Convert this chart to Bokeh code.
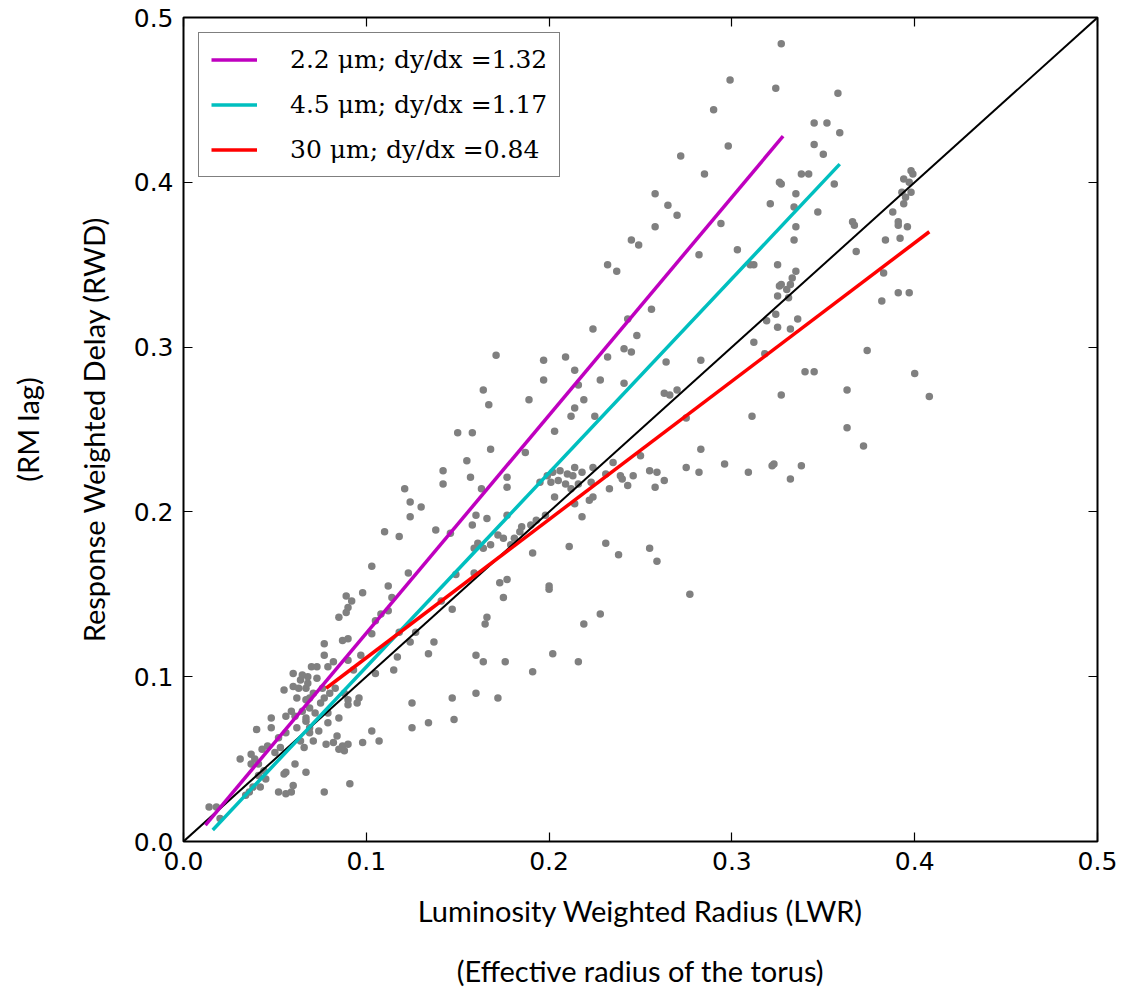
from bokeh.plotting import figure
from bokeh.models import (FixedTicker, NumeralTickFormatter, LinearAxis, Range1d,
                          Legend, LegendItem, CustomJSTickFormatter)
from bokeh.embed import file_html
from bokeh.resources import INLINE

# ---- data ----
lwr = [0.060,0.065,0.064,0.068,0.070,0.055,0.060,0.063,0.067,0.069,0.062,0.059,0.056,0.061,0.065,0.067,0.048,0.048,0.040,0.052,0.056,0.062,0.069,0.043,0.046,0.031,0.037,0.039,0.037,0.041,0.044,0.041,0.045,0.042,0.038,0.036,0.034,0.056,0.055,0.061,0.067,0.060,0.052,0.056,0.059,0.014,0.018,0.020,0.050,0.053,0.064,0.066,
       0.103,0.123,0.112,0.098,0.089,0.092,0.114,0.090,0.089,0.085,0.108,0.105,0.112,0.103,0.087,0.090,0.077,0.077,0.118,0.124,0.127,0.134,0.097,0.117,0.073,0.079,0.082,0.090,0.093,0.105,0.115,0.068,0.073,0.076,0.071,0.077,0.080,0.083,0.088,0.090,0.096,0.095,0.090,0.067,0.069,0.075,0.079,0.072,0.085,0.069,0.074,0.079,0.067,0.071,0.078,0.084,0.082,0.085,0.087,0.090,0.088,0.103,0.107,0.098,0.125,0.125,0.134,0.091,0.077,
       0.149,0.159,0.141,0.147,0.173,0.177,0.175,0.200,0.200,0.166,0.165,0.219,0.228,0.137,0.160,0.164,0.176,0.191,0.202,0.216,0.147,0.160,0.172,0.148,
       0.121,0.124,0.130,0.124,0.110,0.118,
       0.256,0.243,0.224,0.248,0.241,0.245,0.232,0.171,0.197,0.209,0.214,0.197,0.228,0.241,0.216,0.164,0.189,0.219,0.167,0.214,0.212,0.225,0.150,0.158,0.203,0.168,0.187,0.155,0.142,0.157,0.142,0.177,0.177,0.163,0.138,0.146,0.160,0.158,0.166,0.177,
       0.199,0.202,0.206,0.210,0.213,0.218,0.224,0.214,0.201,0.195,0.205,0.209,0.212,0.216,0.223,0.224,0.222,0.203,0.214,0.235,0.231,0.239,0.246,0.240,0.243,0.233,0.250,0.255,0.259,0.258,0.218,0.198,0.193,0.190,0.185,0.184,0.181,0.175,0.172,0.161,0.159,0.164,0.168,0.179,0.231,0.211,0.191,0.238,0.255,0.259,
       0.258,0.258,0.245,0.249,0.232,0.237,
       0.327,0.299,0.324,0.358,0.290,0.345,0.352,0.359,0.298,0.345,0.350,0.272,0.285,0.338,0.342,0.326,0.327,0.356,0.335,0.265,0.321,0.334,0.347,0.270,0.294,0.335,0.366,0.367,0.334,0.384,0.282,0.303,0.368,0.310,0.312,0.325,0.335,0.333,0.326,0.327,0.330,0.332,0.325,0.331,0.383,0.382,
       0.324,0.319,0.325,0.336,0.332,0.312,0.318,0.264,0.283,0.374,0.340,0.345,0.263,0.266,0.270,0.327,0.363,0.311,0.275,0.363,0.372,0.283,0.263,0.275,0.282,0.296,0.309,0.322,0.323,0.338,0.332,0.277,
       0.398,0.399,0.394,0.397,0.393,0.398,0.395,0.394,0.388,0.391,0.391,0.396,0.392,0.391,0.397,0.400,0.408]
rwd = [0.102,0.101,0.098,0.100,0.106,0.092,0.094,0.093,0.093,0.087,0.087,0.079,0.076,0.076,0.079,0.075,0.075,0.069,0.068,0.063,0.066,0.069,0.066,0.056,0.058,0.050,0.053,0.050,0.047,0.047,0.043,0.040,0.038,0.033,0.033,0.030,0.028,0.042,0.041,0.047,0.042,0.034,0.030,0.029,0.030,0.021,0.021,0.014,0.054,0.057,0.061,0.057,
       0.167,0.163,0.155,0.151,0.149,0.146,0.148,0.142,0.139,0.136,0.138,0.134,0.140,0.126,0.122,0.123,0.120,0.113,0.127,0.121,0.127,0.114,0.113,0.112,0.106,0.106,0.109,0.110,0.104,0.102,0.104,0.096,0.099,0.093,0.090,0.087,0.090,0.093,0.090,0.086,0.087,0.084,0.083,0.086,0.081,0.084,0.078,0.078,0.075,0.069,0.067,0.072,0.073,0.061,0.059,0.064,0.060,0.056,0.058,0.059,0.055,0.067,0.061,0.060,0.084,0.069,0.072,0.035,0.030,
       0.162,0.163,0.146,0.141,0.157,0.159,0.148,0.155,0.153,0.136,0.132,0.132,0.138,0.121,0.113,0.109,0.109,0.103,0.114,0.109,0.087,0.090,0.087,0.074,
       0.214,0.206,0.203,0.197,0.188,0.185,
       0.323,0.317,0.311,0.307,0.299,0.297,0.294,0.295,0.292,0.294,0.286,0.280,0.280,0.278,0.277,0.274,0.268,0.268,0.265,0.263,0.258,0.258,0.248,0.248,0.249,0.238,0.236,0.231,0.225,0.221,0.217,0.221,0.215,0.214,0.189,0.187,0.198,0.192,0.196,0.198,
       0.222,0.224,0.225,0.223,0.222,0.224,0.227,0.227,0.218,0.218,0.219,0.217,0.214,0.217,0.218,0.209,0.207,0.209,0.205,0.230,0.223,0.222,0.222,0.220,0.216,0.214,0.234,0.225,0.224,0.215,0.197,0.198,0.195,0.192,0.191,0.188,0.184,0.184,0.186,0.181,0.178,0.178,0.180,0.180,0.181,0.179,0.175,0.174,0.178,0.170,
       0.393,0.373,0.365,0.362,0.350,0.346,
       0.484,0.462,0.457,0.454,0.444,0.436,0.436,0.430,0.422,0.423,0.417,0.416,0.405,0.405,0.405,0.400,0.399,0.399,0.393,0.386,0.387,0.385,0.382,0.380,0.375,0.373,0.376,0.374,0.365,0.365,0.356,0.359,0.358,0.350,0.350,0.350,0.346,0.342,0.337,0.338,0.335,0.338,0.331,0.330,0.345,0.328,
       0.320,0.316,0.312,0.317,0.311,0.303,0.296,0.291,0.292,0.298,0.285,0.285,0.272,0.271,0.274,0.271,0.274,0.258,0.257,0.251,0.240,0.238,0.219,0.227,0.224,0.229,0.224,0.228,0.229,0.228,0.220,0.150,
       0.407,0.405,0.402,0.400,0.394,0.394,0.391,0.387,0.382,0.376,0.374,0.373,0.366,0.333,0.333,0.284,0.270]

one_to_one_x = [0.0, 0.5]
one_to_one_y = [0.0, 0.5]
fit_labels = ["2.2 \u03bcm; dy/dx =1.32", "4.5 \u03bcm; dy/dx =1.17", "30 \u03bcm; dy/dx =0.84"]
fit_x = [[0.012, 0.328], [0.016, 0.359], [0.078, 0.408]]
fit_y = [[0.010, 0.428], [0.007, 0.411], [0.093, 0.370]]
fit_colors = ["#bf00bf", "#00bfbf", "#ff0000"]
ticks = [0.0, 0.1, 0.2, 0.3, 0.4, 0.5]

p = figure(frame_width=914, frame_height=824, output_backend="svg", toolbar_location=None,
           x_range=Range1d(0, 0.5), y_range=Range1d(0, 0.5),
           min_border_left=183, min_border_right=25, min_border_top=17, min_border_bottom=150,
           background_fill_color="white", border_fill_color="white")
p.grid.visible = False
p.outline_line_color = "black"
p.outline_line_width = 2
p.outline_line_alpha = 1

p.scatter(lwr, rwd, size=7.5, color="#808080", line_color=None)
p.line(one_to_one_x, one_to_one_y, color="black", line_width=2)
items = []
for lab, xs, ys, c in zip(fit_labels, fit_x, fit_y, fit_colors):
    r = p.line(xs, ys, color=c, line_width=3.5)
    items.append(LegendItem(label=lab, renderers=[r]))

def style_axis(ax, show_labels=True):
    ax.ticker = FixedTicker(ticks=ticks)
    ax.axis_line_color = None
    ax.major_tick_in = 9
    ax.major_tick_out = 0
    ax.major_tick_line_color = "black"
    ax.major_tick_line_width = 1.2
    ax.minor_tick_line_color = None
    if show_labels:
        ax.formatter = NumeralTickFormatter(format="0.0")
        ax.major_label_text_font = "DejaVu Sans"
        ax.major_label_text_font_size = "25px"
        ax.major_label_text_color = "black"
    else:
        ax.formatter = CustomJSTickFormatter(code="return ''")

style_axis(p.xaxis[0])
style_axis(p.yaxis[0])
p.xaxis[0].major_label_standoff = 10
p.yaxis[0].major_label_standoff = 10

LABEL_FONT = "Lato"
LABEL_SIZE = "29px"
for ax in (p.xaxis[0], p.yaxis[0]):
    ax.axis_label_text_font = LABEL_FONT
    ax.axis_label_text_font_size = LABEL_SIZE
    ax.axis_label_text_font_style = "normal"
    ax.axis_label_text_color = "black"
p.xaxis[0].axis_label = "Luminosity Weighted Radius (LWR)"
p.yaxis[0].axis_label = "Response Weighted Delay (RWD)"
p.xaxis[0].axis_label_standoff = 20
p.yaxis[0].axis_label_standoff = 20

right_ax = LinearAxis()
style_axis(right_ax, show_labels=False)
right_ax.major_label_standoff = 0
p.add_layout(right_ax, "right")
top_ax = LinearAxis()
style_axis(top_ax, show_labels=False)
top_ax.major_label_standoff = 0
p.add_layout(top_ax, "above")

def label_axis(text, standoff):
    ax = LinearAxis(ticker=FixedTicker(ticks=[]), axis_line_color=None,
                    major_tick_out=0, major_tick_in=0, minor_tick_out=0, minor_tick_in=0,
                    axis_label=text, axis_label_standoff=standoff,
                    axis_label_text_font=LABEL_FONT, axis_label_text_font_size=LABEL_SIZE,
                    axis_label_text_font_style="normal", axis_label_text_color="black")
    return ax

p.add_layout(label_axis("(Effective radius of the torus)", 22), "below")
p.add_layout(label_axis("(RM lag)", 28), "left")

legend = Legend(items=items, location="top_left")
legend.label_text_font = "DejaVu Serif"
legend.label_text_font_size = "25px"
legend.label_text_color = "black"
legend.glyph_width = 46
legend.glyph_height = 29
legend.label_height = 29
legend.label_standoff = 33
legend.spacing = 16
legend.padding = 12
legend.margin = 15
legend.border_line_color = "black"
legend.border_line_width = 1.5
legend.background_fill_color = "white"
legend.background_fill_alpha = 1
p.add_layout(legend)

open("out.html", "w").write(file_html(p, INLINE))
